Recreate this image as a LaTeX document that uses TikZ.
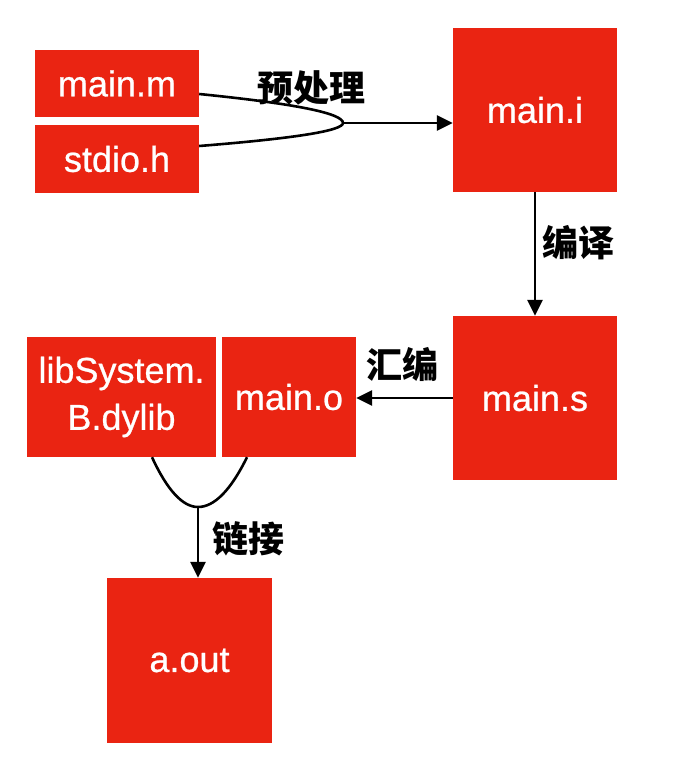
\documentclass[tikz,border=0pt]{standalone}
\usepackage{fontspec}
\setmainfont{Liberation Sans}
\newfontfamily\boxfont{Liberation Sans}[FakeBold=0.7]
\newfontfamily\cjk{Noto Sans CJK SC}
\usetikzlibrary{arrows.meta,calc}
\definecolor{boxred}{RGB}{234,36,18}
\tikzset{
  redbox/.style={fill=boxred,draw=none,inner sep=0pt,text=white,align=center,
    font=\boxfont\fontsize{36}{47}\selectfont},
  conn/.style={line width=2.6pt,black},
  arr/.style={conn,-{Triangle[length=16pt,width=15pt]}},
  lbl/.style={font=\cjk\bfseries\fontsize{36}{40}\selectfont,inner sep=0pt}
}
\begin{document}
\begin{tikzpicture}[x=1pt,y=-1pt]
\useasboundingbox (0,0) rectangle (676,770);
\node[redbox,minimum width=164pt,minimum height=67pt] (mainm) at (117,83.5) {main.m};
\node[redbox,minimum width=164pt,minimum height=68pt] (stdio) at (117,159) {stdio.h};
\node[redbox,minimum width=164pt,minimum height=164pt] (maini) at (535,110) {main.i};
\node[redbox,minimum width=164pt,minimum height=164pt] (mains) at (535,398) {main.s};
\node[redbox,minimum width=134pt,minimum height=120pt] (maino) at (289,397) {main.o};
\node[redbox,minimum width=189pt,minimum height=120pt] (lib) at (121.5,397) {libSystem.\\B.dylib};
\node[redbox,minimum width=165pt,minimum height=165pt] (aout) at (189.5,660.5) {a.out};

\coordinate (j1) at (343,123);
\coordinate (j2) at (198,507);

\draw[conn] ([yshift=-10.5pt]mainm.east) .. controls (295.3,103.7) and (343,113.3) .. (j1)
  .. controls (343,130.7) and (295.3,138.3) .. ([yshift=13pt]stdio.east);
\draw[arr] (j1) -- (j1 -| maini.west);

\draw[arr] (maini.south) -- (mains.north);
\draw[arr] (mains.west) -- (mains.west -| maino.east);

\draw[conn] ([xshift=30.5pt]lib.south) .. controls (167.3,490.3) and (182.7,507) .. (j2)
  .. controls (214.3,507) and (230.7,490.3) .. ([xshift=-42pt]maino.south);
\draw[arr] (j2) -- (j2 |- aout.north);

\node[lbl] (l1) at (311,88) {预处理};
\node[lbl] (l2) at (578,243) {编译};
\node[lbl] (l3) at (402,364) {汇编};
\node[lbl] (l4) at (248,539) {链接};
\end{tikzpicture}
\end{document}
